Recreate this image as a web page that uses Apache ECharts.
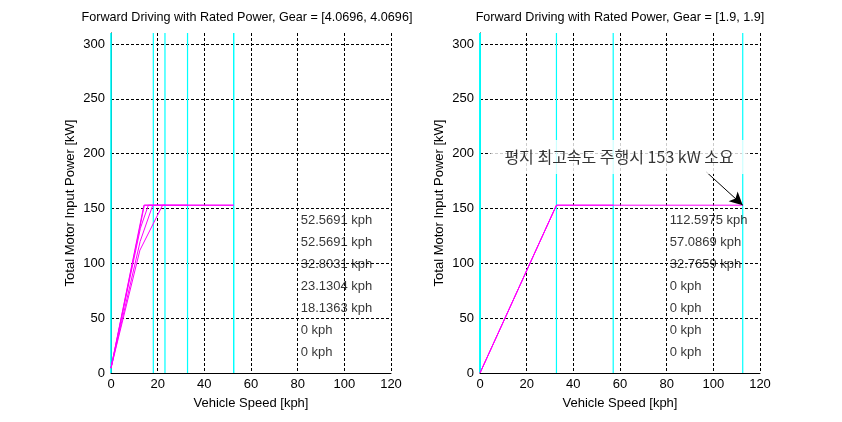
<!DOCTYPE html>
<html><head><meta charset="utf-8">
<script src="https://cdn.jsdelivr.net/npm/echarts@6/dist/echarts.min.js"></script>
<style>html,body{margin:0;padding:0;background:#fff}#c{width:842px;height:422px}</style>
</head><body><div id="c"></div>
<script>
const titles = ['Forward Driving with Rated Power, Gear = [4.0696, 4.0696]', 'Forward Driving with Rated Power, Gear = [1.9, 1.9]'];
const xLabel = 'Vehicle Speed [kph]';
const yLabel = 'Total Motor Input Power [kW]';
const xMin = 0, xMax = 120, xStep = 20;
const yMin = 0, yMax = 310, yStep = 50;
const leftMaxSpeeds = ['52.5691', '52.5691', '32.8031', '23.1304', '18.1363', '0', '0'];
const rightMaxSpeeds = ['112.5975', '57.0869', '32.7659', '0', '0', '0', '0'];
const labelRowsKW = [140, 120, 100, 80, 60, 40, 20];
const labelSpeedX = 80;
const leftCurves = [
  [[0, 4.5], [14.3, 153], [52.5691, 153]],
  [[0, 4.5], [14.1, 153], [52.5691, 153]],
  [[0, 4.5], [12.6, 132], [16.0, 153], [32.8031, 153]],
  [[0, 4.5], [12.4, 112], [22.1, 153], [23.1304, 153]],
  [[0, 4.5], [12.5, 120], [17.9, 153], [18.1363, 153]]
];
const rightCurves = [
  [[0, 0], [32.7659, 153], [112.5975, 153]],
  [[0, 0], [32.7659, 153], [57.0869, 153]],
  [[0, 0], [32.7659, 153]]
];
const note = '평지 최고속도 주행시 153 kW 소요';
const notePos = [59.6, 197];
const arrowFrom = [96.9, 183.5];
const arrowTo = [112.5975, 153];

const FONT = 'Liberation Sans, Arial, sans-serif';
const grids = [
  {left: 111, top: 33, width: 280, height: 340},
  {left: 480, top: 33, width: 280, height: 340}
];
const dash = [3, 2];
function xAxis(i) {
  return {type: 'value', gridIndex: i, min: xMin, max: xMax, interval: xStep,
    name: xLabel, nameLocation: 'middle', nameGap: 24,
    nameTextStyle: {color: '#000', fontSize: 13, fontFamily: FONT},
    axisLine: {lineStyle: {color: '#000', width: 1}}, axisTick: {show: false},
    axisLabel: {color: '#000', fontSize: 13, fontFamily: FONT, margin: 5},
    splitLine: {show: true, lineStyle: {color: '#000', type: dash, width: 1}}};
}
function yAxis(i) {
  return {type: 'value', gridIndex: i, min: yMin, max: yMax, interval: yStep,
    name: yLabel, nameLocation: 'middle', nameGap: 34,
    nameTextStyle: {color: '#000', fontSize: 13, fontFamily: FONT},
    axisLine: {show: true, lineStyle: {color: '#000', width: 1}}, axisTick: {show: false},
    axisLabel: {color: '#000', fontSize: 13, fontFamily: FONT, margin: 6, showMaxLabel: false,
      formatter: v => (v % yStep === 0 ? String(v) : '')},
    splitLine: {show: true, showMaxLine: false, lineStyle: {color: '#000', type: dash, width: 1}}};
}
const series = [];
function addPlot(i, curves, speeds) {
  speeds.forEach(s => {
    const v = parseFloat(s);
    series.push({type: 'line', xAxisIndex: i, yAxisIndex: i, data: [[v, yMin], [v, yMax]],
      symbol: 'none', lineStyle: {color: '#00ffff', width: 1.2}, z: 2, silent: true, animation: false});
  });
  curves.forEach(c => {
    series.push({type: 'line', xAxisIndex: i, yAxisIndex: i, data: c, symbol: 'none',
      lineStyle: {color: '#ff00ff', width: 1}, z: 3, silent: true, animation: false});
  });
  series.push({type: 'scatter', xAxisIndex: i, yAxisIndex: i, symbolSize: 0, z: 4, animation: false,
    data: speeds.map((s, k) => ({value: [labelSpeedX, labelRowsKW[k]], name: s + ' kph'})),
    label: {show: true, position: [3, 1], align: 'left', verticalAlign: 'middle',
      formatter: p => p.name, color: '#000', fontSize: 13, fontFamily: FONT}});
}
addPlot(0, leftCurves, leftMaxSpeeds);
addPlot(1, rightCurves, rightMaxSpeeds);
series.push({type: 'scatter', xAxisIndex: 1, yAxisIndex: 1, symbolSize: 0, z: 10, animation: false,
  data: [{value: notePos, name: note}],
  label: {show: true, position: [0, 0], align: 'center', verticalAlign: 'middle',
    formatter: p => p.name, color: '#000', fontSize: 16, fontFamily: 'Noto Sans CJK KR, sans-serif',
    backgroundColor: '#fff', padding: [9, 14]},
  markLine: {silent: true, animation: false, symbol: ['none', 'arrow'], symbolSize: [10, 13],
    label: {show: false}, lineStyle: {color: '#000', width: 1, type: 'solid'},
    data: [[{coord: arrowFrom}, {coord: arrowTo}]]}});

const chart = echarts.init(document.getElementById('c'), null, {renderer: 'canvas'});
chart.setOption({
  animation: false,
  backgroundColor: '#fff',
  title: titles.map((t, i) => ({text: t, left: grids[i].left + grids[i].width / 2 - (i === 0 ? 4 : 0), top: 11, textAlign: 'center', padding: 0,
    textStyle: {color: '#000', fontSize: 12.6, fontWeight: 'normal', fontFamily: FONT}})),
  grid: grids,
  xAxis: [xAxis(0), xAxis(1)],
  yAxis: [yAxis(0), yAxis(1)],
  series
});
</script></body></html>
